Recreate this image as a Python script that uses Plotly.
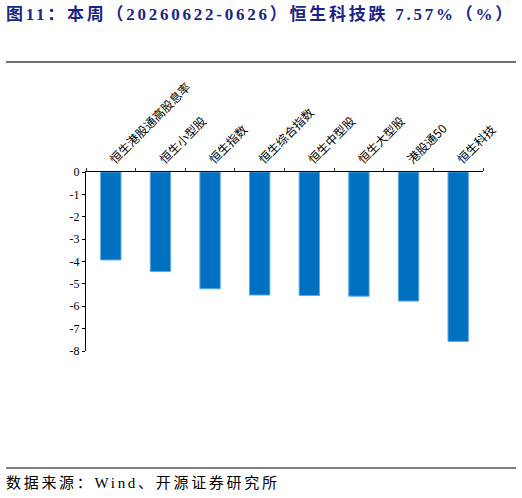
import plotly.graph_objects as go

categories = ["恒生港股通高股息率", "恒生小型股", "恒生指数", "恒生综合指数",
              "恒生中型股", "恒生大型股", "港股通50", "恒生科技"]
values = [-3.93, -4.45, -5.22, -5.50, -5.52, -5.55, -5.77, -7.57]
y_ticks = [0, -1, -2, -3, -4, -5, -6, -7, -8]

W, H = 522, 498
L, R, T, B = 86, 483, 172, 351
pw, ph = R - L, B - T

def px(x):
    return (x - L) / pw

def py(y):
    return (B - y) / ph

serif = "Liberation Serif, Noto Sans CJK SC"

fig = go.Figure(go.Bar(
    x=categories, y=values,
    marker=dict(color="#0070C0", line=dict(color="#5DA9E0", width=1)),
    width=0.41,
))

fig.update_layout(
    width=W, height=H,
    margin=dict(l=L, r=W - R, t=T, b=H - B),
    paper_bgcolor="white", plot_bgcolor="white",
    showlegend=False,
    font=dict(family=serif, color="#000000", size=12),
    xaxis=dict(
        side="top", tickangle=-45, tickson="boundaries",
        ticks="outside", ticklen=3, tickcolor="#333333",
        showline=True, linecolor="#000000", linewidth=1,
        showgrid=False, zeroline=False,
        tickfont=dict(family="Noto Sans CJK SC, Liberation Serif", size=12),
    ),
    yaxis=dict(
        range=[-8, 0], tickvals=y_ticks,
        ticktext=[str(v) for v in y_ticks],
        ticks="outside", ticklen=3, tickcolor="#000000",
        showline=True, linecolor="#000000", linewidth=1,
        showgrid=False, zeroline=False,
        tickfont=dict(family=serif, size=12),
    ),
    shapes=[
        dict(type="line", xref="paper", yref="paper",
             x0=px(6), x1=px(516), y0=py(62), y1=py(62),
             line=dict(color="#404040", width=1.5)),
        dict(type="line", xref="paper", yref="paper",
             x0=px(6), x1=px(516), y0=py(468), y1=py(468),
             line=dict(color="#000000", width=1.2)),
    ],
    annotations=[
        dict(text="<b>图11：本周（20260622-0626）恒生科技跌 7.57%（%）</b>",
             xref="paper", yref="paper", x=px(4), y=py(14),
             xanchor="left", yanchor="middle", align="left", showarrow=False,
             font=dict(family=serif, size=17, color="#1B2585")),
        dict(text="数据来源：Wind、开源证券研究所",
             xref="paper", yref="paper", x=px(4), y=py(483),
             xanchor="left", yanchor="middle", align="left", showarrow=False,
             font=dict(family=serif, size=15, color="#000000")),
    ],
)

post = """
var ts = document.querySelectorAll('text.annotation-text');
if (ts.length > 0) ts[0].style.letterSpacing = '2.75px';
if (ts.length > 1) ts[1].style.letterSpacing = '2.7px';
"""

fig.write_html("out.html", post_script=post)
